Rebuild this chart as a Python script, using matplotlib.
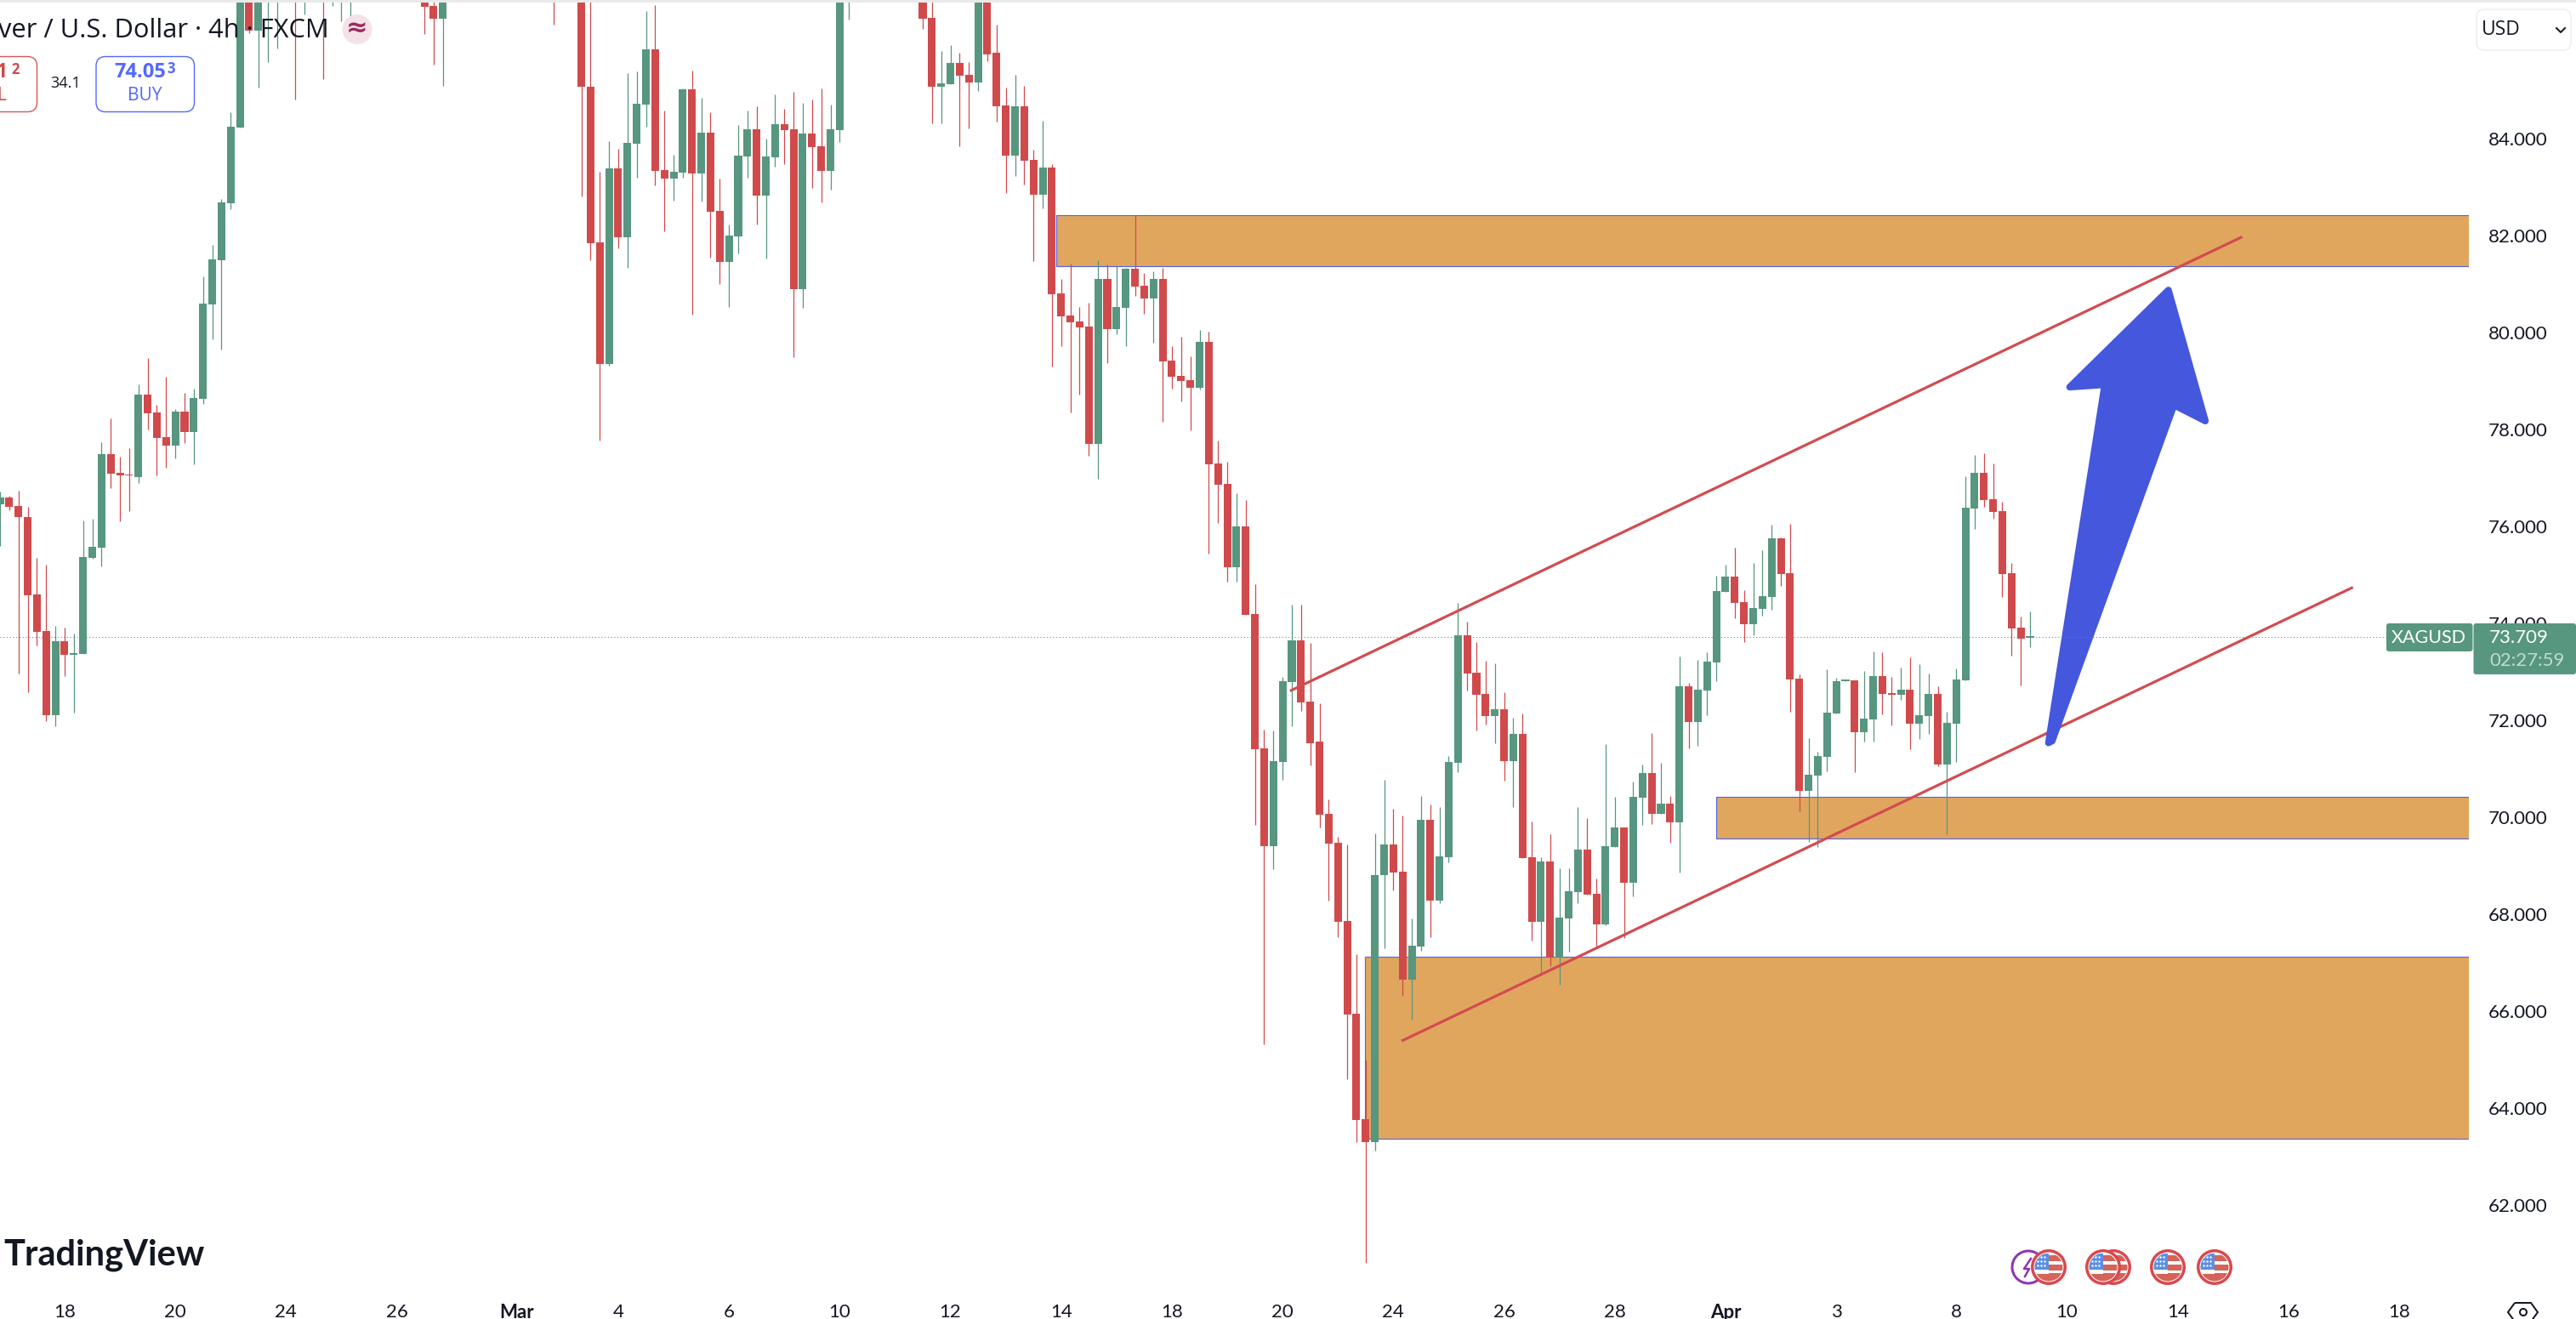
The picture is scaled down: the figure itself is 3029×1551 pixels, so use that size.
import numpy as np
import matplotlib
matplotlib.use("Agg")
import matplotlib.pyplot as plt
from matplotlib.patches import Rectangle, Polygon, Circle, FancyBboxPatch

# ---------- data (4h candles, USD) ----------
opens = [
 76.45,76.59,76.41,76.19,74.59,73.83,72.10,73.62,73.35,73.36,
 75.34,75.56,77.49,77.10,77.06,77.02,78.72,78.35,77.83,77.66,
 78.37,77.94,78.63,80.57,81.49,82.67,84.23,87.40,86.23,87.60,
 88.60,89.30,88.90,87.60,88.20,88.90,87.80,88.30,88.80,89.40,
 90.10,89.60,90.40,89.90,89.00,89.60,88.40,86.73,86.47,87.60,
 88.20,87.80,88.70,89.30,88.60,89.40,88.90,88.30,88.90,88.20,
 87.70,87.20,87.60,88.20,85.06,81.85,79.34,83.38,81.96,83.89,
 84.70,85.83,83.34,83.17,83.29,85.02,83.28,84.11,82.50,81.45,
 81.97,83.62,84.19,82.82,83.61,84.29,84.19,80.89,84.10,83.84,
 83.33,84.17,86.80,88.40,89.20,88.70,89.50,88.90,88.20,87.70,
 87.20,86.49,85.06,85.12,85.56,85.31,85.16,87.60,85.77,84.68,
 83.65,84.66,83.56,82.84,83.40,80.80,80.34,80.22,80.11,77.70,
 81.10,80.07,80.50,81.31,80.96,80.70,81.10,79.41,79.10,79.01,
 78.86,79.81,77.29,76.87,75.15,75.99,74.19,71.41,69.40,71.13,
 72.78,73.65,72.38,71.55,70.06,69.47,67.86,65.94,63.77,63.29,
 68.80,69.43,68.87,66.64,67.32,69.94,68.27,69.17,71.11,73.75,
 72.97,72.54,72.08,72.22,71.15,71.71,69.17,67.84,69.09,67.10,
 67.91,68.45,69.33,68.41,67.79,69.38,69.78,68.65,70.40,70.91,
 70.06,70.28,69.89,72.69,71.96,72.61,73.19,74.64,74.96,74.43,
 73.98,74.29,74.54,75.75,75.03,72.86,70.54,70.85,71.24,72.14,
 72.80,72.82,71.75,72.01,72.91,72.55,72.52,72.63,71.92,72.09,
 72.54,71.08,71.92,72.82,76.37,77.10,76.55,76.31,75.03,73.91,
 73.70]
highs = [
 76.71,76.63,76.73,76.40,75.34,75.20,73.95,73.90,73.78,76.12,
 76.15,77.73,78.22,77.43,77.61,78.93,79.47,78.51,79.08,78.42,
 78.75,78.84,81.16,81.80,82.75,84.54,88.00,87.90,88.40,89.10,
 89.90,90.00,89.40,88.80,89.40,89.50,88.90,89.40,90.00,90.60,
 90.80,91.00,91.10,90.30,90.10,90.00,88.90,87.20,88.10,88.80,
 88.90,89.20,89.80,89.90,90.00,89.90,89.30,89.50,89.30,88.70,
 88.10,88.00,88.60,88.60,87.50,83.31,83.94,83.79,85.34,85.38,
 86.63,86.75,84.57,83.66,85.03,85.40,84.84,84.54,83.17,82.22,
 84.28,84.57,84.66,84.00,84.91,84.61,84.96,84.73,84.80,85.03,
 84.70,88.30,88.90,89.70,89.70,90.00,90.00,89.30,88.60,88.00,
 87.60,86.90,85.80,85.92,85.77,85.57,88.00,88.00,86.34,85.05,
 85.31,85.08,83.77,84.37,83.47,81.10,81.41,80.52,80.61,81.48,
 81.40,81.36,81.33,82.41,81.22,81.25,81.33,79.71,79.91,79.50,
 80.05,80.01,77.77,77.33,76.68,76.54,74.81,71.80,71.78,72.89,
 74.39,74.38,73.59,72.35,70.36,69.59,69.43,67.17,64.98,69.66,
 70.77,70.17,70.03,67.91,70.44,70.25,70.20,71.26,74.41,74.03,
 73.61,73.23,73.17,72.57,72.05,72.14,69.90,69.17,69.64,68.95,
 68.94,70.20,69.97,68.73,71.50,70.41,69.78,70.74,71.09,71.74,
 71.12,70.43,73.31,72.77,73.24,73.40,74.98,75.21,75.55,74.68,
 75.24,75.51,76.03,75.77,76.05,72.94,71.63,71.35,73.05,72.87,
 72.82,72.82,73.01,73.42,73.40,72.89,73.09,73.29,73.15,72.96,
 72.69,72.17,73.07,77.03,77.47,77.50,77.30,76.50,75.24,74.14,
 74.24]
lows = [
 75.60,76.33,72.96,72.58,73.54,71.98,71.87,72.91,72.15,73.36,
 75.32,75.17,76.78,76.10,76.31,76.89,78.00,77.05,77.21,77.40,
 77.71,77.28,78.52,79.86,79.65,82.54,84.23,86.17,85.04,85.57,
 85.86,88.20,84.81,86.55,87.30,85.23,86.74,86.42,86.45,88.90,
 89.10,89.20,89.40,88.50,88.60,87.90,86.15,85.52,85.08,87.10,
 87.30,87.50,88.30,88.20,88.20,88.40,87.90,87.90,87.70,87.30,
 86.35,86.90,87.10,82.80,81.48,77.76,79.31,81.73,81.33,83.19,
 84.24,83.03,82.08,82.71,83.19,80.36,82.70,81.54,81.00,80.52,
 81.62,83.19,82.22,81.52,83.42,83.47,79.48,80.50,82.97,82.68,
 82.94,83.93,86.45,88.00,88.20,88.30,88.50,87.80,87.30,86.90,
 86.26,84.31,84.31,85.12,83.84,84.20,84.97,85.60,84.34,82.87,
 83.22,83.05,81.47,82.56,79.30,79.71,78.35,78.71,77.45,76.98,
 79.37,79.96,79.71,80.75,80.38,79.78,78.15,78.83,78.58,77.98,
 78.82,75.44,76.06,74.86,74.86,74.17,69.83,65.31,68.92,70.77,
 71.87,72.19,71.06,69.78,68.27,67.52,64.60,63.29,60.80,63.12,
 67.29,68.48,66.31,65.82,67.24,67.52,68.22,69.07,70.93,72.61,
 71.78,71.91,71.53,70.75,70.20,69.16,67.46,66.79,66.92,66.54,
 67.22,68.22,68.40,67.31,67.77,69.38,67.50,68.37,69.84,69.85,
 70.06,69.47,68.85,71.42,71.47,72.10,72.80,74.64,74.10,73.61,
 73.75,74.15,74.28,74.77,72.17,70.11,69.49,69.39,70.94,72.14,
 72.80,70.92,71.56,71.56,72.12,71.89,72.42,71.40,71.61,71.72,
 71.05,69.65,71.13,72.82,75.95,76.40,76.15,74.54,73.33,72.72,
 73.51]
closes = [
 76.59,76.40,76.18,74.57,73.82,72.10,73.62,73.34,73.38,75.36,
 75.58,77.49,77.09,77.04,77.04,78.72,78.33,77.82,77.66,78.37,
 77.94,78.65,80.59,81.51,82.68,84.24,87.40,86.23,87.60,88.60,
 89.30,88.90,87.60,88.20,88.90,87.80,88.30,88.80,89.40,90.10,
 89.60,90.40,89.90,89.00,89.60,88.40,86.71,86.47,87.60,88.20,
 87.80,88.70,89.30,88.60,89.40,88.90,88.30,88.90,88.20,87.70,
 87.20,87.60,88.20,85.06,81.84,79.34,83.38,81.96,83.91,84.71,
 85.83,83.33,83.17,83.31,85.02,83.28,84.11,82.48,81.45,82.00,
 83.65,84.19,82.82,83.62,84.29,84.17,80.89,84.10,83.82,83.33,
 84.19,87.90,88.40,89.20,88.70,89.50,88.90,88.20,87.70,87.20,
 86.47,85.06,85.14,85.56,85.29,85.16,87.60,85.74,84.66,83.65,
 84.66,83.54,82.84,83.40,80.79,80.33,80.21,80.10,77.70,81.10,
 80.07,80.52,81.31,80.94,80.70,81.10,79.40,79.09,78.99,78.86,
 79.81,77.28,76.85,75.15,75.99,74.17,71.40,69.40,71.15,72.80,
 73.65,72.36,71.53,70.04,69.45,67.84,65.92,63.75,63.29,68.81,
 69.43,68.85,66.64,67.34,69.94,68.27,69.19,71.13,73.75,72.96,
 72.52,72.08,72.22,71.15,71.71,69.16,67.84,69.09,67.10,67.93,
 68.47,69.33,68.40,67.79,69.40,69.78,68.64,70.42,70.91,70.06,
 70.28,69.89,72.69,71.96,72.63,73.21,74.66,74.96,74.41,73.98,
 74.31,74.55,75.75,75.01,72.84,70.54,70.87,71.26,72.15,72.80,
 72.82,71.75,72.03,72.91,72.54,72.52,72.63,71.92,72.10,72.54,
 71.08,71.94,72.84,76.38,77.10,76.54,76.30,75.01,73.89,73.68,
 73.71]

last_price = 73.709
zone_starts = [114.5, 186.0, 147.9]
zone_tops = [82.41, 70.41, 67.12]
zone_bottoms = [81.36, 69.55, 63.36]
upper_line_x = [139.8, 243.0]
upper_line_y = [72.60, 81.97]
lower_line_x = [151.9, 255.0]
lower_line_y = [65.38, 74.74]
arrow_x = [222.0, 228.1, 224.3, 235.0, 239.0, 235.6, 222.4]
arrow_y = [71.53, 78.92, 78.87, 80.87, 78.17, 78.50, 71.57]
price_ticks = [62, 64, 66, 68, 70, 72, 74, 76, 78, 80, 82, 84]
time_tick_pos = [7, 19, 31, 43, 56, 67, 79, 91, 103, 115, 127, 139, 151, 163, 175, 187, 199, 212, 224, 236, 248, 260]
time_tick_labels = ["18", "20", "24", "26", "Mar", "4", "6", "10", "12", "14", "18", "20", "24", "26", "28", "Apr", "3", "8", "10", "14", "16", "18"]

# ---------- style ----------
W, H = 3029, 1551
GREEN, RED = "#57967F", "#D04A4C"
ORANGE, ZONE_EDGE = "#E1A65E", "#5064E6"
LINE_RED, ARROW_BLUE = "#D24C50", "#4557DC"
INK = "#131722"
FONT = "Lato"
plt.rcParams["font.family"] = [FONT, "DejaVu Sans"]

px = 72 / 100  # one pixel in points at dpi 100
AX_R, AX_T, AX_B = 2903, 3, 1522
CANDLE_PX = 10.85
PX_PER_USD = 57.0
P0 = 86.855  # price at the very top of the image

fig = plt.figure(figsize=(W / 100, H / 100), dpi=100, facecolor="white")
ax = fig.add_axes([0, 1 - AX_B / H, AX_R / W, (AX_B - AX_T) / H])
ax.set_xlim(0, AX_R / CANDLE_PX)
ax.set_ylim(P0 - AX_B / PX_PER_USD, P0 - AX_T / PX_PER_USD)
for s in ax.spines.values():
    s.set_visible(False)

# zones
for st, tp, bt in zip(zone_starts, zone_tops, zone_bottoms):
    ax.add_patch(Rectangle((st, bt), AX_R / CANDLE_PX - st + 3, tp - bt, facecolor=ORANGE,
                           edgecolor=ZONE_EDGE, linewidth=1.15 * px, zorder=1))

# candles
o, h, l, c = map(np.array, (opens, highs, lows, closes))
x = np.arange(len(o))
cols = np.where(c >= o, GREEN, RED)
ax.vlines(x, l, h, colors=cols, linewidth=1.25 * px, zorder=2)
ax.bar(x, np.maximum(np.abs(c - o), 0.03), bottom=np.minimum(o, c), width=0.83, color=cols, linewidth=0, zorder=3)

# trend lines + arrow
ax.plot(upper_line_x, upper_line_y, color=LINE_RED, lw=3.2 * px, zorder=4, solid_capstyle="butt")
ax.plot(lower_line_x, lower_line_y, color=LINE_RED, lw=3.2 * px, zorder=4, solid_capstyle="butt")
ax.add_patch(Polygon(np.column_stack([arrow_x, arrow_y]), closed=True, facecolor=ARROW_BLUE, edgecolor=ARROW_BLUE,
                     linewidth=8 * px, joinstyle="round", zorder=5))
ax.axhline(last_price, color=GREEN, lw=1.1 * px, linestyle=(0, (1, 2.4)), zorder=6)

# axes
ax.yaxis.tick_right()
ax.set_yticks(price_ticks)
ax.set_yticklabels([f"{v:.3f}" for v in price_ticks], fontsize=16, color=INK)
ax.tick_params(axis="y", length=0, pad=23 * px)
ax.set_xticks(time_tick_pos)
ax.set_xticklabels(time_tick_labels, fontsize=16, color=INK)
ax.tick_params(axis="x", length=0, pad=11 * px)
for t in ax.get_xticklabels():
    if t.get_text() in ("Mar", "Apr"):
        t.set_fontweight("bold")

# ---------- overlay in image pixels ----------
ov = fig.add_axes([0, 0, 1, 1], zorder=10)
ov.set_xlim(0, W)
ov.set_ylim(H, 0)
ov.axis("off")
ov.patch.set_alpha(0)

ov.add_patch(Rectangle((0, 0), W, 3, facecolor="#E9E9E9", edgecolor="none"))

def box(x0, y0, x1, y1, r=8, **kw):
    ov.add_patch(FancyBboxPatch((x0 + r, y0 + r), x1 - x0 - 2 * r, y1 - y0 - 2 * r,
                                boxstyle=f"round,pad={r},rounding_size={r}", **kw))

HEAD = "Open Sans"
ov.text(387, 36, "ver / U.S. Dollar · 4h · FXCM", ha="right", va="center", fontsize=22.2, color=INK, family=HEAD)
ov.add_patch(Circle((420, 34.5), 17.5, facecolor="#F5E2E9", edgecolor="none"))
ov.text(420, 34, "≈", ha="center", va="center", fontsize=22, color="#9C2A5F", family="DejaVu Sans", fontweight="bold")

box(-60, 66.5, 43.5, 131.5, r=11, facecolor="white", edgecolor="#D9565A", linewidth=1.4 * px)
ov.text(9, 85, "1", ha="right", va="center", fontsize=16.5, color=RED, family=HEAD, fontweight="bold")
ov.text(13, 82, "2", ha="left", va="center", fontsize=12, color=RED, family=HEAD, fontweight="bold")
ov.text(8, 113, "L", ha="right", va="center", fontsize=15, color=RED, family=HEAD)
ov.text(77.5, 98, "34.1", ha="center", va="center", fontsize=13, color=INK, family=HEAD)
box(113, 66.5, 228.5, 131.5, r=11, facecolor="white", edgecolor="#5468FF", linewidth=1.4 * px)
ov.text(195, 85, "74.05", ha="right", va="center", fontsize=17, color="#5468FF", family=HEAD, fontweight="bold")
ov.text(196, 81, "3", ha="left", va="center", fontsize=12, color="#5468FF", family=HEAD, fontweight="bold")
ov.text(170, 113, "BUY", ha="center", va="center", fontsize=15, color="#5468FF", family=HEAD)

box(2912, 11, 3023, 59, r=9, facecolor="white", edgecolor="#ECECEC", linewidth=1.4 * px)
ov.text(2918, 35, "USD", ha="left", va="center", fontsize=16.5, color=INK, family=HEAD)
ov.plot([3006, 3011, 3016], [33, 38, 33], color=INK, lw=2 * px)

# last price labels
box(2806, 733, 2907.5, 766, r=3, facecolor=GREEN, edgecolor="none")
ov.text(2856, 750, "XAGUSD", ha="center", va="center", fontsize=15.5, color="white")
box(2908.5, 733, 3029, 793, r=3, facecolor=GREEN, edgecolor="none")
ov.text(2927, 749.5, "73.709", ha="left", va="center", fontsize=16, color="white")
ov.text(2927, 777, "02:27:59", ha="left", va="center", fontsize=16, color="#C3DBD2")

ov.text(4, 1476, "TradingView", ha="left", va="center", fontsize=30, color=INK, fontweight="bold")

# event icons
def flag(cx, cy=1490):
    ov.add_patch(Circle((cx, cy), 21, facecolor="#D9484D", edgecolor="none"))
    inner = Circle((cx, cy), 17.5, facecolor="white", edgecolor="none")
    ov.add_patch(inner)
    clip = Circle((cx, cy), 16.5, transform=ov.transData)
    for y0 in (cy - 14, cy - 3, cy + 7):
        s = Rectangle((cx, y0), 17, 7, facecolor="#D4635A", edgecolor="none")
        ov.add_patch(s)
        s.set_clip_path(clip)
    s = Rectangle((cx - 17, cy + 8), 34, 9, facecolor="#D4635A", edgecolor="none")
    ov.add_patch(s)
    s.set_clip_path(clip)
    s = Rectangle((cx - 17, cy - 16), 17, 19, facecolor="#5B8FE3", edgecolor="none")
    ov.add_patch(s)
    s.set_clip_path(clip)
    sx, sy = np.meshgrid(np.arange(cx - 13, cx - 1, 4), np.arange(cy - 12, cy + 2, 5))
    pts = ov.scatter(sx.ravel(), sy.ravel(), s=3, color="white", linewidths=0)
    pts.set_clip_path(clip)

ov.add_patch(Circle((2385, 1490), 19, facecolor="white", edgecolor="#8E35B0", linewidth=3 * px))
ov.plot([2388, 2380, 2386, 2381], [1480, 1492, 1492, 1501], color="#8E35B0", lw=2.5 * px)
for cx in (2409, 2485, 2473, 2549, 2604):
    flag(cx)

# settings icon
ov.add_patch(Polygon([(2957, 1532), (2976, 1532), (2984, 1543), (2976, 1554), (2957, 1554), (2949, 1543)],
                     closed=True, facecolor="none", edgecolor=INK, linewidth=2 * px, clip_on=True))
ov.add_patch(Circle((2967, 1543), 4, facecolor="none", edgecolor=INK, linewidth=2 * px))

fig.savefig("out.png", dpi=100, facecolor="white")
